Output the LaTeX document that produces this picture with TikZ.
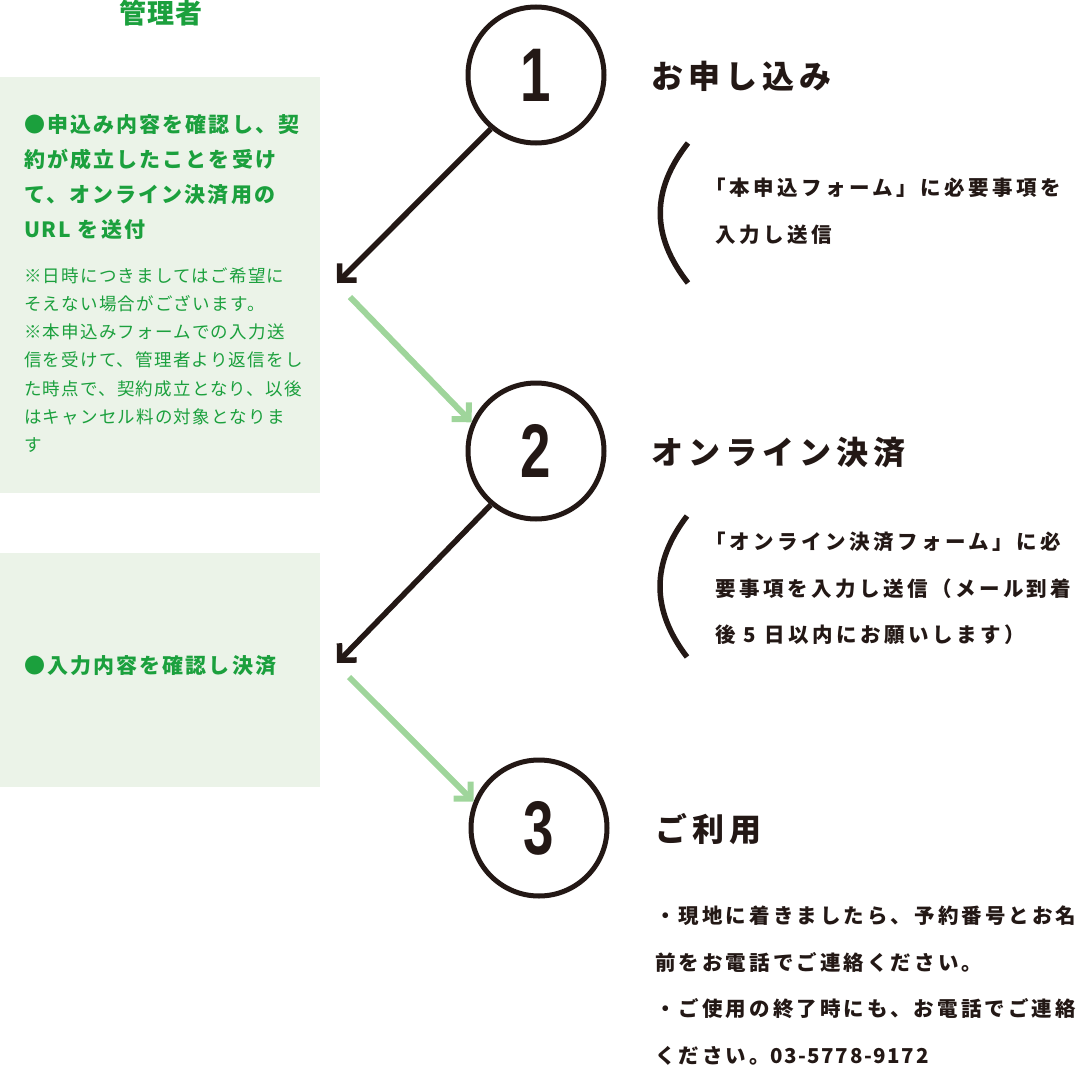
\documentclass[tikz,border=0pt]{standalone}
\usepackage{fontspec}
\setmainfont{Noto Sans CJK JP}
\newfontfamily\jpHead{Noto Sans CJK JP}[LetterSpace=4]
\newfontfamily\jpLead{Noto Sans CJK JP}[LetterSpace=10]
\newfontfamily\jpNote{Noto Sans CJK JP}[LetterSpace=7]
\newfontfamily\jpTitle{Noto Sans CJK JP}[LetterSpace=16]
\newfontfamily\jpBody{Noto Sans CJK JP}[LetterSpace=17]
\newfontfamily\jpUse{Noto Sans CJK JP}[LetterSpace=15]
\newfontfamily\jpLatin{Noto Sans CJK JP}[LetterSpace=8]
\newfontfamily\numfont{Liberation Sans}
\usetikzlibrary{arrows.meta}
\definecolor{mgreen}{HTML}{1BA03D}
\definecolor{boxfill}{HTML}{EBF3E8}
\definecolor{lgreen}{HTML}{9FD59B}
\definecolor{ink}{HTML}{231815}
\newcommand{\stepnum}[1]{\scalebox{0.72}[1]{\numfont\bfseries\fontsize{76}{76}\selectfont #1}}
\newcommand{\lat}[1]{{\jpLatin\bfseries #1}}
\begin{document}
\begin{tikzpicture}[x=1pt,y=-1pt,
  panel/.style={fill=boxfill, draw=none, anchor=north west, inner sep=0, minimum width=320pt},
  stepcircle/.style={circle, draw=ink, line width=5pt, minimum size=136pt, inner sep=0, text=ink},
  blackarrow/.style={draw=ink, line width=5.5pt, line cap=butt, -{Straight Barb[length=12pt,width=24pt,line join=miter]}},
  greenarrow/.style={draw=lgreen, line width=6pt, line cap=butt, -{Straight Barb[length=12pt,width=24pt,line join=miter]}},
  paren/.style={draw=ink, line width=5.5pt, line cap=butt},
  headtext/.style={text=mgreen, inner sep=0, font=\jpHead\bfseries\fontsize{27}{27}\selectfont},
  leadtext/.style={text=mgreen, inner sep=0, align=left, font=\jpLead\bfseries\fontsize{21}{35}\selectfont},
  notetext/.style={text=mgreen, inner sep=0, align=left, font=\jpNote\fontsize{17.5}{28.2}\selectfont},
  titletext/.style={text=ink, inner sep=0, anchor=west, font=\jpTitle\bfseries\fontsize{32}{32}\selectfont},
  bodytext/.style={text=ink, inner sep=0, align=left, anchor=north west, font=\jpBody\bfseries\fontsize{20.5}{46.5}\selectfont},
  usetext/.style={text=ink, inner sep=0, align=left, anchor=north west, font=\jpUse\bfseries\fontsize{20.5}{46.5}\selectfont}
]
\useasboundingbox (0,0) rectangle (1080,1065);

% left panels
\node[panel, minimum height=416pt] (p1) at (0,77) {};
\node[panel, minimum height=234pt] (p2) at (0,553) {};
\node[headtext] (hd) at (161,13) {管理者};
\node[leadtext, anchor=north west] (lead1) at (24,111)
  {\rule{0pt}{21pt}●申込み内容を確認し、契\\約が成立したことを受け\\て、オンライン決済用の\\\lat{URL} を送付};
\node[notetext, anchor=north west] (note1) at (24,264.5)
  {\rule{0pt}{17.5pt}※日時につきましてはご希望に\\そえない場合がございます。\\※本申込みフォームでの入力送\\信を受けて、管理者より返信をし\\た時点で、契約成立となり、以後\\はキャンセル料の対象となりま\\す};
\node[leadtext, anchor=west] (lead2) at (24,666) {●入力内容を確認し決済};

% step circles
\node[stepcircle] (c1) at (536,75) {\stepnum{1}};
\node[stepcircle] (c2) at (536,451) {\stepnum{2}};
\node[stepcircle] (c3) at (539,828) {\stepnum{3}};

% arrows
\coordinate (b1) at (337,283);
\coordinate (g1) at (350,297);
\coordinate (b2) at (337,663);
\coordinate (g2) at (349,677);
\draw[blackarrow] (c1.230) -- (b1);
\draw[greenarrow] (g1) -- (c2.156);
\draw[blackarrow] (c2.230) -- (b2);
\draw[greenarrow] (g2) -- (c3.158);

% titles
\node[titletext] (t1) at (651,76) {お申し込み};
\node[titletext] (t2) at (651,453) {オンライン決済};
\node[titletext] (t3) at (655,829) {ご利用};

% brackets
\draw[paren] (688,143) .. controls (651,190) and (651,236) .. (688,283);
\draw[paren] (687,516) .. controls (651,563) and (651,610) .. (687,657);

% descriptions
\node[bodytext] (d1) at (715,175)
  {\rule{0pt}{20.5pt}\kern-10pt「本申込フォーム」に必要事項を\\入力し送信};
\node[bodytext] (d2) at (715,529)
  {\rule{0pt}{20.5pt}\kern-10pt「オンライン決済フォーム」に必\\要事項を入力し送信（メール到着\\後 \lat{5} 日以内にお願いします）};
\node[usetext] (d3) at (655,903)
  {\rule{0pt}{20.5pt}・現地に着きましたら、予約番号とお名\\前をお電話でご連絡ください。\\・ご使用の終了時にも、お電話でご連絡\\ください。\lat{03-5778-9172}};
\end{tikzpicture}
\end{document}
